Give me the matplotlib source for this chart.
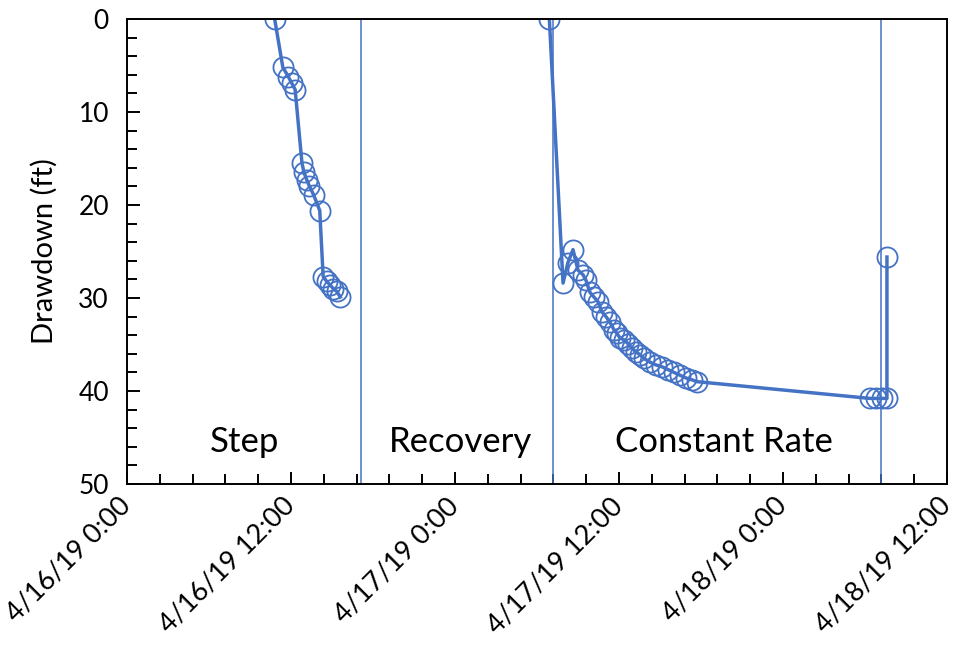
import matplotlib
matplotlib.use('Agg')
import matplotlib.pyplot as plt
import matplotlib.dates as mdates
from matplotlib.ticker import MultipleLocator
import pandas as pd

plt.rcParams['font.family'] = ['Lato', 'DejaVu Sans']

start = pd.Timestamp('2019-04-16 00:00')

# step test (hours after start, drawdown ft)
step_hours = [10.8, 11.4, 11.8, 12.05, 12.3, 12.8, 12.95, 13.15, 13.35, 13.65, 14.1,
              14.35, 14.6, 14.85, 15.1, 15.35, 15.6]
step_drawdown = [0.0, 5.2, 6.2, 6.9, 7.6, 15.5, 16.5, 17.3, 18.0, 18.9, 20.6,
                 27.7, 28.2, 28.6, 29.0, 29.3, 29.9]

# constant rate test
const_hours = [30.9, 31.9, 32.26, 32.63, 32.99, 33.36, 33.58, 33.87, 34.16, 34.46,
               34.75, 35.04, 35.33, 35.62, 35.84, 36.07, 36.36, 36.65, 36.94, 37.24,
               37.53, 37.82, 38.26, 38.7, 39.14, 39.58, 40.01, 40.45, 40.89, 41.33,
               41.7, 54.35, 54.79, 55.23, 55.6, 55.6]
const_drawdown = [0.0, 28.4, 26.2, 24.8, 27.0, 27.5, 28.1, 29.4, 29.9, 30.4,
                  31.5, 32.0, 32.6, 33.4, 33.8, 34.3, 34.5, 34.9, 35.4, 35.8,
                  36.1, 36.5, 36.9, 37.2, 37.4, 37.7, 38.0, 38.3, 38.6, 38.8,
                  39.0, 40.8, 40.8, 40.8, 40.8, 25.6]

divider_hours = [17.1, 31.2, 55.2]
phase_labels = ['Step', 'Recovery', 'Constant Rate']
tick_labels = ['4/16/19 0:00', '4/16/19 12:00', '4/17/19 0:00', '4/17/19 12:00',
               '4/18/19 0:00', '4/18/19 12:00']


def to_num(hours):
    return mdates.date2num(start + pd.to_timedelta(hours, unit='h'))


blue = '#4472C4'
fig = plt.figure(figsize=(9.58, 6.54), dpi=100)
ax = fig.add_axes([0.1326, 0.26, 0.856, 0.711])

for h, d in [(step_hours, step_drawdown), (const_hours, const_drawdown)]:
    ax.plot(to_num(h), d, color=blue, lw=2.5, marker='o', ms=14.5,
            mfc='none', mec=blue, mew=1.3)

for h in divider_hours:
    ax.axvline(to_num([h])[0], color=blue, lw=1.1)

x0 = mdates.date2num(start)
ax.set_xlim(x0, x0 + 2.5)
ax.set_ylim(50, 0)

ax.set_xticks([x0 + 0.5 * i for i in range(len(tick_labels))])
ax.set_xticklabels(tick_labels, rotation=45, ha='right', va='center',
                   rotation_mode='anchor', fontsize=19.5)
ax.xaxis.set_minor_locator(MultipleLocator(0.1))
ax.yaxis.set_major_locator(MultipleLocator(10))
ax.yaxis.set_minor_locator(MultipleLocator(2))

ax.tick_params(axis='both', which='both', direction='in', width=1.4)
ax.tick_params(axis='y', labelsize=19)
ax.tick_params(axis='both', which='major', length=9)
ax.tick_params(axis='both', which='minor', length=7)
ax.tick_params(axis='x', which='major', pad=13)
ax.tick_params(axis='y', which='major', pad=13)
for s in ax.spines.values():
    s.set_linewidth(1.4)

ax.set_ylabel('Drawdown (ft)', fontsize=21, labelpad=15)

for label, h in zip(phase_labels, [8.6, 24.4, 43.7]):
    ax.text(to_num([h])[0], 45.5, label, ha='center', va='center', fontsize=25)

fig.savefig('out.png', dpi=100)
